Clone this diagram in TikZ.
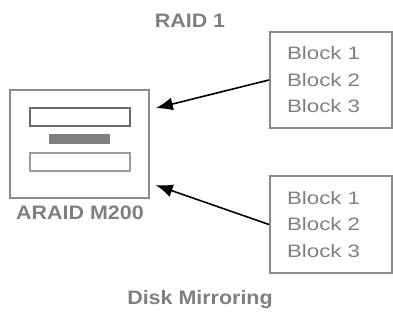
\documentclass[tikz,border=0pt]{standalone}
\usepackage{fontspec}
\setmainfont[FakeStretch=1.24]{Liberation Sans}
\newfontfamily\labelfont[FakeStretch=1.1]{Liberation Sans Bold}
\usetikzlibrary{arrows.meta}
\definecolor{boxgray}{HTML}{8A8A8A}
\definecolor{textgray}{HTML}{7F7F7F}
\definecolor{slotdark}{HTML}{6A6A6A}
\definecolor{slotlight}{HTML}{9A9A9A}
\tikzset{
  frame/.style={draw=boxgray, line width=2pt, inner sep=0pt},
  blocks/.style={frame, text=textgray, align=left, text width=88pt,
    inner xsep=17pt, minimum width=122pt, minimum height=96pt,
    font=\fontsize{18}{26.5}\selectfont},
  caption/.style={text=textgray, font=\labelfont\fontsize{19.5}{22}\selectfont},
  link/.style={-{Latex[length=17pt,width=13pt]}, line width=1.6pt, shorten >=6pt}
}
\begin{document}
\begin{tikzpicture}[x=1pt, y=-1pt]
  \useasboundingbox (0,0) rectangle (393,320);
  % controller
  \node[frame, minimum width=139pt, minimum height=108pt] (araid) at (79.5,144) {};
  \node[draw=slotdark, line width=2pt, minimum width=100pt, minimum height=18pt] (slot1) at (80,117) {};
  \node[fill=textgray, minimum width=61pt, minimum height=10pt, inner sep=0pt] (bar) at (79.5,139) {};
  \node[draw=slotlight, line width=2pt, minimum width=100pt, minimum height=18pt] (slot2) at (80,162) {};
  \node[caption] (araidlabel) at (80,212.5) {ARAID M200};
  % disks
  \node[blocks] (disk1) at (331,80) {Block 1\\Block 2\\Block 3};
  \node[blocks] (disk2) at (331,224.5) {Block 1\\Block 2\\Block 3};
  \node[caption] (raid) at (190,21) {RAID 1};
  \node[caption] (mirror) at (200,300) {Disk Mirroring};
  \draw[link] (disk1.west) to (araid.26);
  \draw[link] (disk2.west) to (araid.-29);
\end{tikzpicture}
\end{document}
